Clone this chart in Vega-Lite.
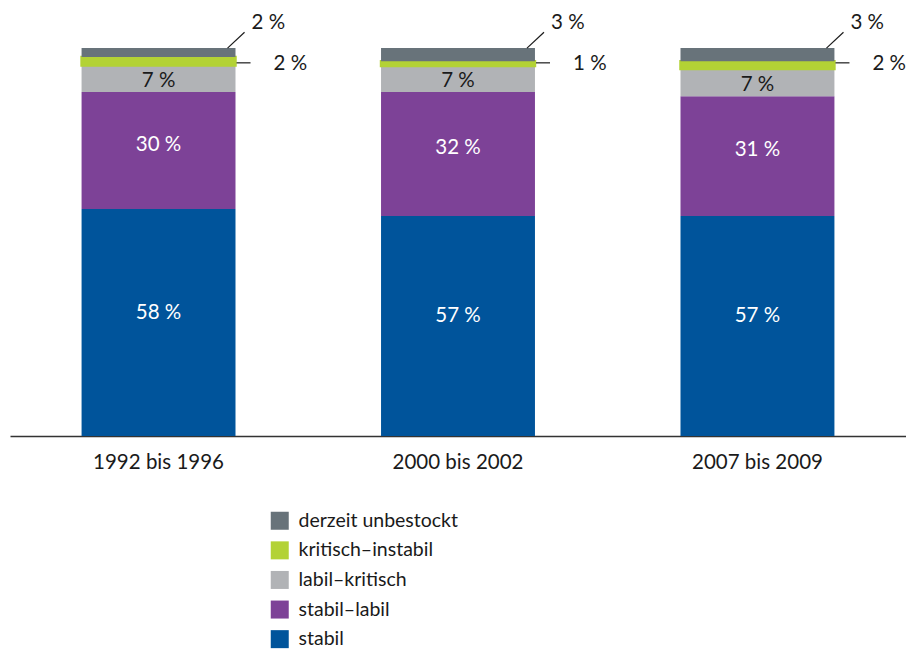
{
  "$schema": "https://vega.github.io/schema/vega-lite/v6.json",
  "width": 896,
  "height": 436,
  "autosize": {"type": "none"},
  "padding": {"left": 10, "top": 0, "right": 0, "bottom": 213},
  "background": "white",
  "config": {"font": "Lato", "view": {"stroke": null}},
  "data": {
    "values": [
      {"zeitraum": "1992 bis 1996", "klasse": "stabil", "ord": 1, "anteil": 58.5, "label": "58 %"},
      {"zeitraum": "1992 bis 1996", "klasse": "stabil–labil", "ord": 2, "anteil": 30.2, "label": "30 %"},
      {"zeitraum": "1992 bis 1996", "klasse": "labil–kritisch", "ord": 3, "anteil": 6.8, "label": "7 %"},
      {"zeitraum": "1992 bis 1996", "klasse": "kritisch–instabil", "ord": 4, "anteil": 2.2, "label": "2 %"},
      {"zeitraum": "1992 bis 1996", "klasse": "derzeit unbestockt", "ord": 5, "anteil": 2.3, "label": "2 %"},
      {"zeitraum": "2000 bis 2002", "klasse": "stabil", "ord": 1, "anteil": 56.7, "label": "57 %"},
      {"zeitraum": "2000 bis 2002", "klasse": "stabil–labil", "ord": 2, "anteil": 32.0, "label": "32 %"},
      {"zeitraum": "2000 bis 2002", "klasse": "labil–kritisch", "ord": 3, "anteil": 6.7, "label": "7 %"},
      {"zeitraum": "2000 bis 2002", "klasse": "kritisch–instabil", "ord": 4, "anteil": 1.2, "label": "1 %"},
      {"zeitraum": "2000 bis 2002", "klasse": "derzeit unbestockt", "ord": 5, "anteil": 3.4, "label": "3 %"},
      {"zeitraum": "2007 bis 2009", "klasse": "stabil", "ord": 1, "anteil": 56.7, "label": "57 %"},
      {"zeitraum": "2007 bis 2009", "klasse": "stabil–labil", "ord": 2, "anteil": 30.9, "label": "31 %"},
      {"zeitraum": "2007 bis 2009", "klasse": "labil–kritisch", "ord": 3, "anteil": 7.0, "label": "7 %"},
      {"zeitraum": "2007 bis 2009", "klasse": "kritisch–instabil", "ord": 4, "anteil": 2.0, "label": "2 %"},
      {"zeitraum": "2007 bis 2009", "klasse": "derzeit unbestockt", "ord": 5, "anteil": 3.4, "label": "3 %"}
    ]
  },
  "encoding": {
    "x": {
      "field": "zeitraum",
      "type": "nominal",
      "sort": ["1992 bis 1996", "2000 bis 2002", "2007 bis 2009"],
      "scale": {"paddingInner": 0.486, "paddingOuter": 0.239},
      "axis": {
        "title": null,
        "ticks": false,
        "labelAngle": 0,
        "labelFontSize": 20.5,
        "labelColor": "#1a1a1a",
        "labelPadding": 16,
        "domainColor": "#333333",
        "domainWidth": 1.5
      }
    }
  },
  "layer": [
    {
      "mark": {"type": "bar", "stroke": "#B3D235"},
      "encoding": {
        "y": {
          "field": "anteil",
          "type": "quantitative",
          "stack": "zero",
          "scale": {"domain": [0, 112.4], "nice": false},
          "axis": null
        },
        "color": {
          "field": "klasse",
          "type": "nominal",
          "scale": {
            "domain": ["derzeit unbestockt", "kritisch–instabil", "labil–kritisch", "stabil–labil", "stabil"],
            "range": ["#68737A", "#B3D235", "#B1B3B6", "#7D4297", "#00549B"]
          },
          "legend": {
            "title": null,
            "orient": "none",
            "legendX": 260,
            "legendY": 511,
            "direction": "vertical",
            "symbolType": "square",
            "symbolSize": 324,
            "symbolStrokeWidth": 0,
            "labelFontSize": 19.5,
            "labelColor": "#1a1a1a",
            "labelOffset": 9,
            "rowPadding": 8.6
          }
        },
        "order": {"field": "ord", "type": "quantitative", "sort": "ascending"},
        "strokeWidth": {"condition": {"test": "datum.ord == 4", "value": 2.5}, "value": 0}
      }
    },
    {
      "transform": [
        {"stack": "anteil", "groupby": ["zeitraum"], "sort": [{"field": "ord", "order": "ascending"}], "as": ["y0", "y1"]},
        {"calculate": "(datum.y0 + datum.y1) / 2", "as": "mid"},
        {"filter": "datum.ord == 1"}
      ],
      "mark": {"type": "text", "fontSize": 20.5, "baseline": "middle", "align": "center", "dy": -10, "color": "white"},
      "encoding": {
        "y": {"field": "mid", "type": "quantitative"},
        "text": {"field": "label"}
      }
    },
    {
      "transform": [
        {"stack": "anteil", "groupby": ["zeitraum"], "sort": [{"field": "ord", "order": "ascending"}], "as": ["y0", "y1"]},
        {"calculate": "(datum.y0 + datum.y1) / 2", "as": "mid"},
        {"filter": "datum.ord == 2"}
      ],
      "mark": {"type": "text", "fontSize": 20.5, "baseline": "middle", "align": "center", "dy": -6, "color": "white"},
      "encoding": {
        "y": {"field": "mid", "type": "quantitative"},
        "text": {"field": "label"}
      }
    },
    {
      "transform": [
        {"stack": "anteil", "groupby": ["zeitraum"], "sort": [{"field": "ord", "order": "ascending"}], "as": ["y0", "y1"]},
        {"calculate": "(datum.y0 + datum.y1) / 2", "as": "mid"},
        {"filter": "datum.ord == 3"}
      ],
      "mark": {"type": "text", "fontSize": 20.5, "baseline": "middle", "align": "center", "dy": 2, "color": "#1a1a1a"},
      "encoding": {
        "y": {"field": "mid", "type": "quantitative"},
        "text": {"field": "label"}
      }
    },
    {
      "transform": [{"filter": "datum.ord == 5"}],
      "mark": {"type": "text", "fontSize": 20.5, "baseline": "middle", "align": "left", "xOffset": 93, "color": "#1a1a1a"},
      "encoding": {
        "y": {"datum": 106.5},
        "text": {"field": "label"}
      }
    },
    {
      "transform": [{"filter": "datum.ord == 4"}],
      "mark": {"type": "text", "fontSize": 20.5, "baseline": "middle", "align": "left", "xOffset": 115, "color": "#1a1a1a"},
      "encoding": {
        "y": {"datum": 96.0},
        "text": {"field": "label"}
      }
    },
    {
      "transform": [{"filter": "datum.ord == 5"}],
      "mark": {"type": "rule", "color": "#1a1a1a", "strokeWidth": 1.2, "xOffset": 69, "x2Offset": 86},
      "encoding": {
        "x2": {"field": "zeitraum"},
        "y": {"datum": 100},
        "y2": {"datum": 104.1}
      }
    },
    {
      "transform": [{"filter": "datum.ord == 4"}],
      "mark": {"type": "rule", "color": "#1a1a1a", "strokeWidth": 1.2, "xOffset": 78, "x2Offset": 92},
      "encoding": {
        "x2": {"field": "zeitraum"},
        "y": {"datum": 96.2},
        "y2": {"datum": 96.2}
      }
    }
  ]
}
